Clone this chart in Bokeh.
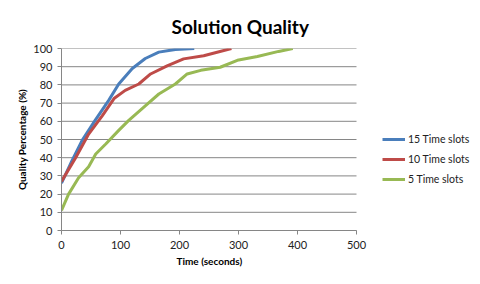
from bokeh.plotting import figure
from bokeh.models import Range1d, Legend, LegendItem, FixedTicker, Title
from bokeh.embed import file_html
from bokeh.resources import INLINE

# data
t15 = [0, 18, 35, 57, 80, 97, 120, 142, 165, 193, 225]
q15 = [26, 38.5, 49.5, 60.5, 71.5, 80.5, 89, 94.5, 98, 99.5, 100]
t10 = [0, 24, 46, 69, 89, 108, 131, 151, 179, 207, 241, 288]
q10 = [27, 40, 53, 63, 72.5, 77, 80.5, 86, 90.5, 94.3, 96, 100]
t5 = [0, 12, 29, 46, 58, 75, 97, 114, 142, 165, 193, 213, 236, 269, 298, 332, 368, 392]
q5 = [11, 20, 29, 35, 42, 47.5, 55, 60.5, 68.5, 75, 80.5, 86, 88, 89.7, 93.5, 95.6, 98.4, 100]
labels = ["15 Time slots", "10 Time slots", "5 Time slots"]
colors = ["#4A7EBB", "#BE4B48", "#98B954"]
x_ticks = [0, 100, 200, 300, 400, 500]
y_ticks = list(range(0, 101, 10))

FONT = "Lato"
GRID = "#868686"

W, H = 472, 276
LEFT, RIGHT, TOP, BOTTOM = 61, 0, 48, 46
PLOT_W = 295  # pixel width of the 0..500 axis
frame_w = W - LEFT - RIGHT
x_end = x_ticks[-1] * frame_w / PLOT_W

p = figure(width=W, height=H, output_backend="svg", toolbar_location=None,
           x_range=Range1d(0, x_end), y_range=Range1d(0, 100),
           min_border_left=LEFT, min_border_right=RIGHT, min_border_top=TOP, min_border_bottom=BOTTOM)
p.outline_line_color = None
p.background_fill_color = "white"
p.border_fill_color = "white"

p.title.text = "Solution Quality"
p.title.align = "left"
p.title.offset = 110
p.title.text_font = FONT
p.title.text_font_size = "19px"
p.title.text_font_style = "bold"
p.title.text_color = "#000000"
p.title.standoff = 21

p.xgrid.grid_line_color = None
p.ygrid.grid_line_color = None

# horizontal gridlines limited to the axis extent
p.segment(x0=[x_ticks[0]] * len(y_ticks), x1=[x_ticks[-1]] * len(y_ticks),
          y0=y_ticks, y1=y_ticks, line_color=GRID, line_width=1)

for ax in (p.xaxis[0], p.yaxis[0]):
    ax.axis_line_color = GRID
    ax.major_tick_line_color = GRID
    ax.minor_tick_line_color = None
    ax.major_tick_in = 0
    ax.major_tick_out = 4
    ax.major_label_text_font = FONT
    ax.major_label_text_font_size = "11px"
    ax.major_label_text_color = "#222222"
    ax.axis_label_text_font = FONT
    ax.axis_label_text_font_size = "10px"
    ax.axis_label_text_font_style = "bold"
    ax.axis_label_text_color = "#000000"

p.xaxis.ticker = FixedTicker(ticks=x_ticks)
p.xaxis.bounds = (x_ticks[0], x_ticks[-1])
p.yaxis.ticker = FixedTicker(ticks=y_ticks)
p.yaxis.axis_label = "Quality Percentage (%)"
p.xaxis.major_label_standoff = 6
p.yaxis.major_label_standoff = 5
p.yaxis.axis_label_standoff = 2

xlabel = Title(text="Time (seconds)", align="left", offset=115, standoff=3,
               text_font=FONT, text_font_size="10px", text_font_style="bold", text_color="#000000")
p.add_layout(xlabel, "below")

r15 = p.line(t15, q15, line_color=colors[0], line_width=3)
r10 = p.line(t10, q10, line_color=colors[1], line_width=3)
r5 = p.line(t5, q5, line_color=colors[2], line_width=3)

legend = Legend(items=[LegendItem(label=labels[0], renderers=[r15]),
                       LegendItem(label=labels[1], renderers=[r10]),
                       LegendItem(label=labels[2], renderers=[r5])],
                location=(321, 41), orientation="vertical",
                glyph_width=23, glyph_height=20, label_height=20, spacing=0,
                padding=0, margin=0, label_standoff=3,
                label_text_font=FONT, label_text_font_size="10.5px", label_text_color="#222222",
                border_line_color=None, background_fill_alpha=0)
p.add_layout(legend, "center")

open("out.html", "w").write(file_html(p, INLINE))
